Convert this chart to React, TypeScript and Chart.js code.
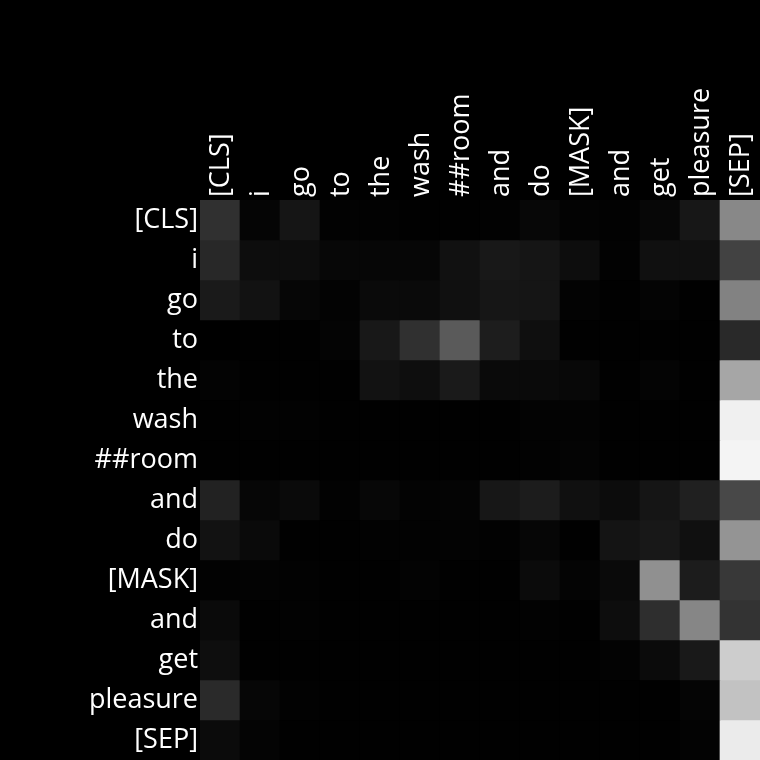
import React, { useEffect, useRef } from "react";
import { Chart, registerables } from "chart.js";

Chart.register(...registerables);

const tokens = ["[CLS]", "i", "go", "to", "the", "wash", "##room", "and", "do", "[MASK]", "and", "get", "pleasure", "[SEP]"];

const rowCLS = [0.188, 0.020, 0.082, 0.008, 0.008, 0.004, 0.004, 0.008, 0.027, 0.012, 0.008, 0.027, 0.090, 0.533];
const rowI = [0.157, 0.051, 0.051, 0.027, 0.024, 0.024, 0.067, 0.094, 0.082, 0.051, 0.008, 0.063, 0.063, 0.259];
const rowGo = [0.102, 0.071, 0.024, 0.012, 0.039, 0.039, 0.063, 0.086, 0.082, 0.012, 0.004, 0.016, 0.004, 0.510];
const rowTo = [0.000, 0.004, 0.004, 0.016, 0.094, 0.188, 0.353, 0.114, 0.059, 0.004, 0.004, 0.004, 0.004, 0.161];
const rowThe = [0.012, 0.004, 0.004, 0.004, 0.071, 0.055, 0.102, 0.039, 0.039, 0.031, 0.004, 0.016, 0.004, 0.651];
const rowWash = [0.004, 0.008, 0.008, 0.004, 0.004, 0.004, 0.004, 0.004, 0.012, 0.012, 0.004, 0.004, 0.004, 0.941];
const rowRoom = [0.004, 0.004, 0.004, 0.004, 0.004, 0.004, 0.004, 0.004, 0.008, 0.016, 0.004, 0.004, 0.004, 0.957];
const rowAnd1 = [0.133, 0.024, 0.039, 0.008, 0.027, 0.012, 0.016, 0.090, 0.110, 0.063, 0.047, 0.082, 0.125, 0.282];
const rowDo = [0.071, 0.039, 0.004, 0.004, 0.008, 0.008, 0.012, 0.008, 0.024, 0.004, 0.078, 0.094, 0.063, 0.580];
const rowMask = [0.008, 0.012, 0.008, 0.004, 0.004, 0.012, 0.004, 0.004, 0.043, 0.016, 0.039, 0.565, 0.110, 0.220];
const rowAnd2 = [0.039, 0.004, 0.008, 0.004, 0.004, 0.004, 0.004, 0.004, 0.008, 0.004, 0.051, 0.180, 0.525, 0.200];
const rowGet = [0.055, 0.004, 0.004, 0.004, 0.004, 0.004, 0.004, 0.004, 0.004, 0.004, 0.012, 0.043, 0.098, 0.804];
const rowPleasure = [0.165, 0.024, 0.008, 0.004, 0.004, 0.004, 0.004, 0.004, 0.004, 0.004, 0.004, 0.004, 0.020, 0.761];
const rowSEP = [0.043, 0.016, 0.004, 0.004, 0.004, 0.004, 0.004, 0.004, 0.004, 0.004, 0.004, 0.004, 0.012, 0.922];

const rows = [rowCLS, rowI, rowGo, rowTo, rowThe, rowWash, rowRoom, rowAnd1, rowDo, rowMask, rowAnd2, rowGet, rowPleasure, rowSEP];

function gray(v: number): string {
  const g = Math.round(Math.max(0, Math.min(1, v)) * 255);
  return `rgb(${g},${g},${g})`;
}

export default function App() {
  const ref = useRef<HTMLCanvasElement | null>(null);

  useEffect(() => {
    document.body.style.margin = "0";
    document.body.style.background = "#000";
    const canvas = ref.current;
    if (!canvas) return;
    const font = { family: "'Open Sans', 'Noto Sans', sans-serif", size: 27 };
    const chart = new Chart(canvas, {
      type: "bar",
      data: {
        labels: tokens,
        datasets: rows.map((row, r) => ({
          label: tokens[r],
          data: row.map(() => [r, r + 1] as [number, number]),
          backgroundColor: row.map(gray),
          borderWidth: 0,
          grouped: false,
          barPercentage: 1,
          categoryPercentage: 1,
        })),
      },
      options: {
        responsive: false,
        animation: false,
        events: [],
        layout: { padding: 0 },
        plugins: { legend: { display: false }, tooltip: { enabled: false } },
        scales: {
          x: {
            position: "top",
            grid: { display: false, drawTicks: false },
            border: { display: false },
            ticks: {
              color: "#fff",
              font,
              minRotation: 90,
              maxRotation: 90,
              autoSkip: false,
              padding: 3,
              labelOffset: 34,
            },
            afterFit: (scale: any) => {
              scale.height = 200;
              scale.paddingLeft = 0;
              scale.paddingRight = 0;
            },
          },
          y: {
            type: "linear",
            min: 0,
            max: rows.length,
            reverse: true,
            grid: { display: false, drawTicks: false },
            border: { display: false },
            afterBuildTicks: (scale: any) => {
              scale.ticks = tokens.map((_, i) => ({ value: i + 0.5 }));
            },
            ticks: {
              color: "#fff",
              font,
              autoSkip: false,
              padding: 2,
              callback: (value: any) => tokens[Math.floor(Number(value))],
            },
            afterFit: (scale: any) => {
              scale.width = 200;
              scale.paddingTop = 0;
              scale.paddingBottom = 0;
            },
          },
        },
      },
    });
    return () => chart.destroy();
  }, []);

  return <canvas ref={ref} width={760} height={760} style={{ display: "block", background: "#000" }} />;
}
